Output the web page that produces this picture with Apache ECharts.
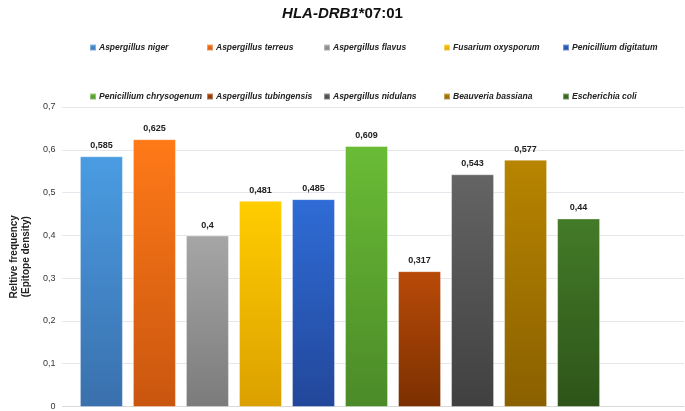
<!DOCTYPE html>
<html><head><meta charset="utf-8">
<script src="https://cdn.jsdelivr.net/npm/echarts@6/dist/echarts.min.js"></script>
<style>html,body{margin:0;padding:0;background:#fff}#c{width:685px;height:411px}</style>
</head><body><div id="c"></div>
<script>
const species = ['Aspergillus niger','Aspergillus terreus','Aspergillus flavus','Fusarium oxysporum','Penicillium digitatum','Penicillium chrysogenum','Aspergillus tubingensis','Aspergillus nidulans','Beauveria bassiana','Escherichia coli'];
const values = [0.585,0.625,0.4,0.481,0.485,0.609,0.317,0.543,0.577,0.44];
const yTicks = [0,0.1,0.2,0.3,0.4,0.5,0.6,0.7];
const topColors = ['#4a9ce2','#ff7a18','#a6a6a6','#ffcd00','#2f6cd6','#6abc36','#b94a08','#646464','#b88500','#437b28'];
const bottomColors = ['#3a70ad','#c9560f','#7b7b7b','#dba000','#22479a','#4b8a28','#7b3000','#404040','#8a6000','#2e5419'];

const fmt = v => String(v).replace('.', ',');
const font = "'Liberation Sans',Arial,sans-serif";

const series = species.map((s, i) => ({
  name: s, type: 'bar', xAxisIndex: 1, yAxisIndex: 1,
  data: [values[i]],
  barWidth: 43, barGap: '23.3%',
  itemStyle: {
    color: {type:'linear', x:0, y:0, x2:0, y2:1, colorStops:[{offset:0,color:topColors[i]},{offset:1,color:bottomColors[i]}]},
    borderColor: 'rgba(255,255,255,0.35)', borderWidth: 1
  },
  label: {show:true, position:'top', distance:6, formatter: p => fmt(p.value), fontFamily: font, fontWeight:'bold', fontSize:9, color:'#222'}
}));

const legendLeft = [84, 201, 318, 438, 557];
const legends = legendLeft.map((l, c) => ({
  data: [species[c], species[c+5]],
  orient: 'vertical', left: l, top: 38, itemGap: 40,
  itemWidth: 6, itemHeight: 6, icon: 'rect',
  textStyle: {fontFamily: font, fontStyle:'italic', fontWeight:'bold', fontSize:8.5, color:'#222', padding:[0,0,0,-2]},
  selectedMode: false
}));

const chart = echarts.init(document.getElementById('c'));
chart.setOption({
  animation: false,
  title: {
    text: '{i|HLA-DRB1}{n|*07:01}', left: 'center', top: 1,
    textStyle: {rich: {
      i: {fontFamily: font, fontStyle:'italic', fontWeight:'bold', fontSize:15, color:'#111'},
      n: {fontFamily: font, fontWeight:'bold', fontSize:15, color:'#111'}
    }}
  },
  legend: legends,
  grid: [
    {left: 59, right: 1, top: 107, bottom: 4},
    {left: 70, right: 75, top: 107, bottom: 4}
  ],
  xAxis: [
    {type:'category', gridIndex:0, data:[''], axisLine:{lineStyle:{color:'#d9d9d9'}}, axisTick:{show:false}, axisLabel:{show:false}},
    {type:'category', gridIndex:1, data:[''], axisLine:{show:false}, axisTick:{show:false}, axisLabel:{show:false}}
  ],
  yAxis: [
    {type:'value', gridIndex:0, min:0, max:0.7, interval:0.1,
     name:'Reltive frequency\n(Epitope density)', nameLocation:'middle', nameGap:30, nameRotate:90,
     nameTextStyle:{fontFamily: font, fontWeight:'bold', fontSize:10, color:'#222', lineHeight:12},
     axisLine:{show:false}, axisTick:{show:false},
     axisLabel:{margin:7, fontFamily: font, fontSize:9, color:'#333', formatter: v => fmt(+v.toFixed(1))},
     splitLine:{lineStyle:{color:'#e4e6ec'}}},
    {type:'value', gridIndex:1, min:0, max:0.7, interval:0.1, show:false, splitLine:{show:false}}
  ],
  series: series
});
</script></body></html>
